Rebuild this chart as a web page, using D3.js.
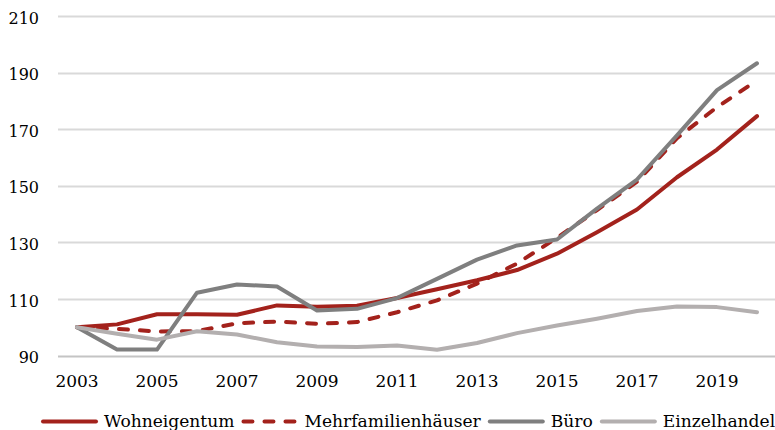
<!DOCTYPE html>
<html>
<head>
<meta charset="utf-8">
<script src="https://cdn.jsdelivr.net/npm/d3@7"></script>
<style>
  html, body { margin: 0; padding: 0; background: #fff; }
  svg { display: block; }
  text { font-family: "DejaVu Serif", Georgia, serif; fill: #000; }
</style>
</head>
<body>
<svg id="chart" width="775" height="430"></svg>
<script>
// Index values per year (2003 = 100)
const years = [2003, 2004, 2005, 2006, 2007, 2008, 2009, 2010, 2011, 2012,
               2013, 2014, 2015, 2016, 2017, 2018, 2019, 2020];
const wohneigentum = [100, 101.0, 104.6, 104.6, 104.4, 107.7, 107.2, 107.6, 110.3, 113.4,
                      116.6, 120.2, 126.0, 133.6, 141.6, 153.0, 162.8, 174.6];
const mehrfamilienhaeuser = [100, 99.4, 98.5, 98.6, 101.4, 102.0, 101.2, 101.8, 105.3, 109.5,
                             115.4, 122.5, 131.6, 141.4, 151.4, 166.8, 177.8, 187.2];
const buero = [100, 92.1, 92.1, 112.2, 115.1, 114.4, 105.9, 106.5, 110.3, 117.1,
               123.9, 128.9, 131.0, 141.9, 152.2, 167.8, 183.8, 193.3];
const einzelhandel = [100, 97.7, 95.6, 98.6, 97.4, 94.7, 93.2, 93.0, 93.5, 92.0,
                      94.4, 97.9, 100.6, 103.0, 105.7, 107.3, 107.1, 105.3];
const yTicks = [90, 110, 130, 150, 170, 190, 210];
const xTickLabels = ["2003", "2005", "2007", "2009", "2011", "2013", "2015", "2017", "2019"];
const seriesNames = ["Wohneigentum", "Mehrfamilienhäuser", "Büro", "Einzelhandel"];

const series = [
  { name: seriesNames[0], values: wohneigentum,        color: "#a3221c", dash: null },
  { name: seriesNames[1], values: mehrfamilienhaeuser, color: "#a3221c", dash: "9,12" },
  { name: seriesNames[2], values: buero,               color: "#7f7f7f", dash: null },
  { name: seriesNames[3], values: einzelhandel,        color: "#b3afaf", dash: null }
];

const svg = d3.select("#chart");
const plot = { left: 57, right: 777, top: 16, bottom: 355.5 };

const x = d3.scaleBand()
  .domain(years.map(String))
  .range([plot.left, plot.right]);
const xc = yr => x(String(yr)) + x.bandwidth() / 2;

const y = d3.scaleLinear()
  .domain([90, 210])
  .range([plot.bottom, plot.top]);

// Horizontal gridlines
svg.append("g")
  .selectAll("line")
  .data(yTicks)
  .join("line")
  .attr("x1", plot.left + 1)
  .attr("x2", 775)
  .attr("y1", d => Math.round(y(d)) + 0.5)
  .attr("y2", d => Math.round(y(d)) + 0.5)
  .attr("stroke", d => d === 90 ? "#c4c4c4" : "#d9d9d9")
  .attr("stroke-width", 2);

// Y axis labels
const yAxis = d3.axisLeft(y).tickValues(yTicks).tickSize(0).tickPadding(0);
const gy = svg.append("g")
  .attr("transform", "translate(39,0)")
  .call(yAxis);
gy.select(".domain").remove();
gy.selectAll("text")
  .attr("font-family", "DejaVu Serif")
  .attr("font-size", 16)
  .attr("fill", "#000")
  .attr("dy", "0.45em");

// X axis labels (every second year)
const xAxis = d3.axisBottom(x)
  .tickValues(xTickLabels)
  .tickSize(0)
  .tickPadding(0);
const gx = svg.append("g")
  .attr("transform", "translate(0,375)")
  .call(xAxis);
gx.select(".domain").remove();
gx.selectAll("text")
  .attr("font-family", "DejaVu Serif")
  .attr("font-size", 17)
  .attr("fill", "#000")
  .attr("dy", "0.72em");

// Series lines
const line = d3.line()
  .x((d, i) => xc(years[i]))
  .y(d => y(d));

svg.append("g")
  .selectAll("path")
  .data(series)
  .join("path")
  .attr("d", d => line(d.values))
  .attr("fill", "none")
  .attr("stroke", d => d.color)
  .attr("stroke-width", 4)
  .attr("stroke-linejoin", "round")
  .attr("stroke-linecap", "round")
  .attr("stroke-dasharray", d => d.dash);

// Legend
const legend = svg.append("g").attr("class", "legend");
let lx = 41;
const ly = 421.5;
series.forEach(s => {
  legend.append("line")
    .attr("x1", lx + 2).attr("x2", lx + 55)
    .attr("y1", ly).attr("y2", ly)
    .attr("stroke", s.color)
    .attr("stroke-width", 4)
    .attr("stroke-linecap", "round")
    .attr("stroke-dasharray", s.dash);
  const t = legend.append("text")
    .attr("x", lx + 63)
    .attr("y", 426.5)
    .attr("font-size", 17.1)
    .attr("fill", "#000")
    .text(s.name);
  const w = t.node().getComputedTextLength();
  lx = lx + 63 + w + 7;
});
</script>
</body>
</html>
